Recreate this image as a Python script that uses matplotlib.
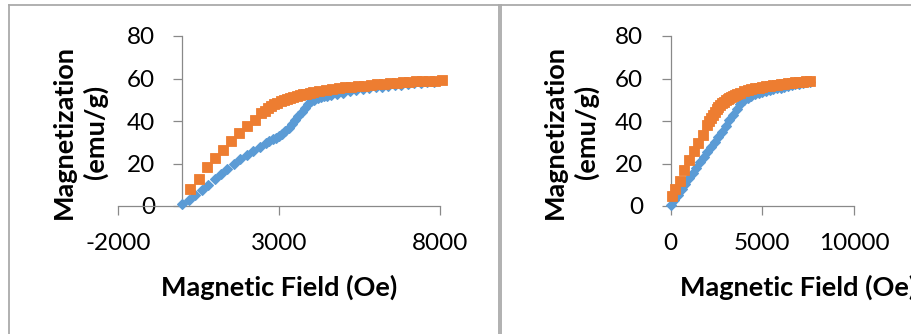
import matplotlib
matplotlib.use("Agg")
import matplotlib.pyplot as plt
from matplotlib.lines import Line2D

plt.rcParams['font.family'] = ['Lato', 'DejaVu Sans']
plt.rcParams['axes.unicode_minus'] = False

# ---- data: magnetization curves (field in Oe, magnetization in emu/g) ----
left_blue_h = [0, 200, 400, 600, 800, 1000, 1200, 1400, 1600, 1800, 2000, 2200,
               2400, 2600, 2700, 2800, 2900, 3000, 3100, 3200, 3300, 3400, 3500,
               3600, 3700, 3800, 3900, 4000, 4100, 4200, 4300, 4400, 4500, 4600,
               4800, 5000, 5200, 5400, 5600, 5800, 6000, 6200, 6400, 6600,
               6800, 7000, 7200, 7400, 7600, 7800]
left_blue_m = [0.8, 3.0, 5.2, 7.4, 9.9, 12.5, 15.0, 17.4, 19.8, 22.0, 24.1, 26.0,
               27.8, 29.6, 30.5, 31.3, 32.1, 33.0, 34.0, 35.3, 36.8, 38.5, 40.4,
               42.3, 44.3, 46.3, 47.9, 49.2, 50.1, 50.8, 51.2, 51.6, 51.9, 52.2,
               52.8, 53.4, 54.0, 54.5, 55.0, 55.4, 55.8, 56.2, 56.5, 56.8,
               57.1, 57.4, 57.7, 57.9, 58.2, 58.4]

left_orange_h = [250, 500, 750, 1000, 1250, 1500, 1750, 2000, 2250, 2450, 2550,
                 2650, 2750, 2850, 2950, 3050, 3150, 3250, 3350, 3450, 3550, 3650,
                 3750, 3850, 3950, 4050, 4250, 4450, 4650, 4850,
                 5050, 5250, 5450, 5650, 5850, 6050, 6250, 6450, 6650, 6850, 7050,
                 7250, 7450, 7650, 7850, 8050]
left_orange_m = [7.8, 12.8, 18.2, 22.5, 26.5, 30.5, 34.3, 37.5, 40.5, 43.6, 44.9,
                 46.0, 47.0, 47.8, 48.5, 49.2, 49.8, 50.4, 50.9, 51.3, 51.7, 52.1,
                 52.5, 52.8, 53.2, 53.5, 54.1, 54.6, 55.0, 55.4,
                 55.8, 56.1, 56.4, 56.7, 57.0, 57.3, 57.6, 57.8, 58.0, 58.2, 58.4,
                 58.6, 58.8, 58.9, 59.0, 59.1]

right_blue_h = [0, 200, 400, 600, 800, 1000, 1200, 1400, 1600, 1800, 2000, 2200,
                2400, 2600, 2800, 3000, 3200, 3400, 3600, 3800, 4000, 4200, 4400,
                4600, 4800, 5000, 5200, 5400, 5600, 5800, 6000, 6200, 6400, 6600,
                6800, 7000, 7200, 7400, 7600]
right_blue_m = [0.5, 2.8, 5.4, 8.0, 10.5, 13.0, 15.5, 18.0, 20.5, 22.9, 25.3, 27.7,
                30.1, 32.5, 35.0, 37.6, 40.3, 43.0, 45.6, 48.0, 49.8, 51.0, 51.9,
                52.6, 53.2, 53.7, 54.1, 54.5, 54.9, 55.3, 55.7, 56.1, 56.4, 56.8,
                57.2, 57.5, 57.9, 58.2, 58.5]

right_orange_h = [50, 250, 500, 750, 1000, 1250, 1500, 1750, 2000, 2100, 2200,
                  2300, 2400, 2500, 2600, 2700, 2800, 2900, 3000, 3100, 3200, 3300,
                  3400, 3500, 3600, 3800, 4000, 4200, 4400, 4600,
                  4800, 5000, 5200, 5400, 5600, 5800, 6000, 6200, 6400, 6600, 6800,
                  7000, 7200, 7400, 7600]
right_orange_m = [4.5, 8.2, 12.0, 16.8, 21.5, 25.8, 29.5, 33.5, 38.3, 40.0, 41.5,
                  43.0, 44.3, 45.5, 46.5, 47.5, 48.3, 49.1, 49.8, 50.4, 50.9, 51.4,
                  51.8, 52.2, 52.6, 53.3, 53.9, 54.4, 54.9, 55.3,
                  55.7, 56.0, 56.3, 56.6, 56.9, 57.1, 57.3, 57.6, 57.8, 58.0, 58.2,
                  58.4, 58.5, 58.7, 58.8]

left_xticks = [-2000, 3000, 8000]
right_xticks = [0, 5000, 10000]
yticks = [0, 20, 40, 60, 80]

BLUE = '#5B9BD5'
ORANGE = '#ED7D31'
AXIS_GREY = '#898989'
FRAME_GREY = '#AAAAAA'

W, H = 911, 334
fig = plt.figure(figsize=(W / 100, H / 100), dpi=100)


def px_x(x):
    return x / W


def px_y(y):
    return 1 - y / H


def setup(ax, xlim, xticks):
    ax.set_xlim(*xlim)
    ax.set_ylim(0, 80)
    ax.set_xticks(xticks)
    ax.set_yticks(yticks)
    ax.patch.set_visible(False)
    for s in ('top', 'right'):
        ax.spines[s].set_visible(False)
    ax.spines['left'].set_position(('data', 0))
    for s in ('left', 'bottom'):
        ax.spines[s].set_color(AXIS_GREY)
        ax.spines[s].set_linewidth(0.9)
    ax.tick_params(direction='out', length=6.3, width=0.9, color=AXIS_GREY,
                   labelsize=17.5, labelcolor='black')
    ax.tick_params(axis='y', pad=13.5)
    ax.tick_params(axis='x', pad=13.5)


def draw_series(ax, bh, bm, oh, om):
    ax.plot(bh, bm, linestyle='none', marker='D', markersize=5.6,
            color=BLUE, markeredgecolor=BLUE, markeredgewidth=0.8,
            clip_on=False, zorder=3)
    ax.plot(oh, om, linestyle='none', marker='s', markersize=6.6,
            color=ORANGE, markeredgecolor=ORANGE, markeredgewidth=0.6,
            clip_on=False, zorder=4)


ax_bottom = px_y(206)
ax_height = 170 / H

ax1 = fig.add_axes([px_x(118), ax_bottom, 322 / W, ax_height])
setup(ax1, (-2000, 8000), left_xticks)
draw_series(ax1, left_blue_h, left_blue_m, left_orange_h, left_orange_m)

ax2 = fig.add_axes([px_x(670.7), ax_bottom, 183.3 / W, ax_height])
setup(ax2, (0, 10000), right_xticks)
draw_series(ax2, right_blue_h, right_blue_m, right_orange_h, right_orange_m)

# axis titles
ylab = "Magnetization\n(emu/g)"
xlab = "Magnetic Field (Oe)"
LABEL_SIZE = 19.5
fig.text(px_x(80), px_y(132), ylab, rotation=90, ha='center', va='center',
         fontsize=LABEL_SIZE, fontweight='bold', linespacing=1.3)
fig.text(px_x(571), px_y(132), ylab, rotation=90, ha='center', va='center',
         fontsize=LABEL_SIZE, fontweight='bold', linespacing=1.3)
fig.text(px_x(279), px_y(287), xlab, ha='center', va='center',
         fontsize=LABEL_SIZE, fontweight='bold')
fig.text(px_x(680), px_y(287), xlab, ha='left', va='center',
         fontsize=LABEL_SIZE, fontweight='bold')

# chart frames
frame_kw = dict(color=FRAME_GREY, linewidth=1.3, transform=fig.transFigure)
fig.add_artist(Line2D([px_x(8.5), px_x(8.5)], [px_y(4.5), -0.1], **frame_kw))
fig.add_artist(Line2D([px_x(8.5), px_x(498.5)], [px_y(4.5), px_y(4.5)], **frame_kw))
fig.add_artist(Line2D([px_x(498.5), px_x(498.5)], [px_y(4.5), -0.1], **frame_kw))
fig.add_artist(Line2D([px_x(501.5), px_x(501.5)], [px_y(4.5), -0.1], **frame_kw))
fig.add_artist(Line2D([px_x(501.5), 1.1], [px_y(4.5), px_y(4.5)], **frame_kw))

fig.savefig('out.png', dpi=100)
